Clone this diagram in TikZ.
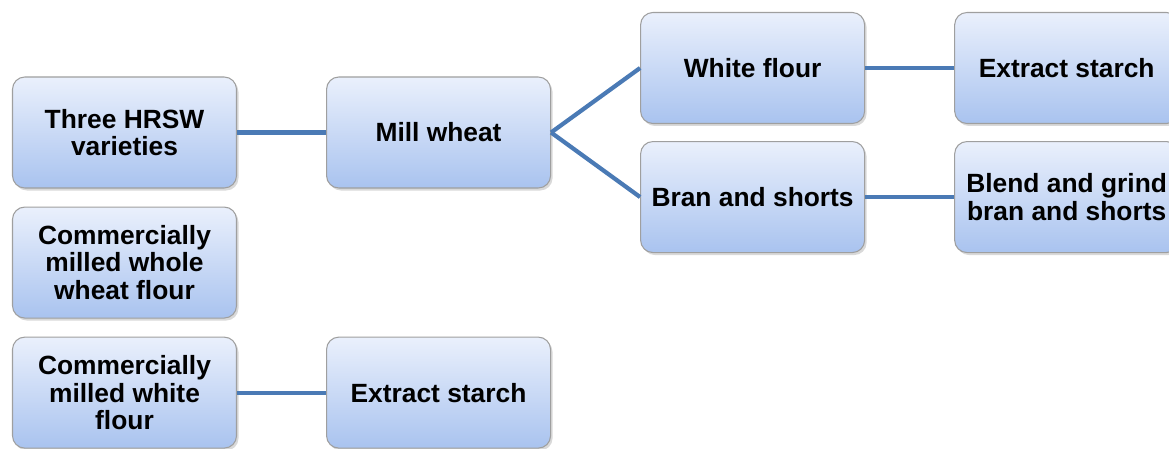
\documentclass[tikz,border=0pt]{standalone}
\usepackage{fontspec}
\setmainfont{Liberation Sans}
\usepackage{xcolor}
\usetikzlibrary{positioning, shadows}
\definecolor{boxtop}{HTML}{EAF0FC}
\definecolor{boxbottom}{HTML}{A9C3EF}
\definecolor{linkblue}{HTML}{4A7AB5}

\begin{document}
\begin{tikzpicture}[
    node distance=1.78cm,
    box/.style={draw=gray!75, line width=0.6pt, rounded corners=7pt, align=center,
        top color=boxtop, bottom color=boxbottom,
        drop shadow={opacity=0.3, shadow xshift=0.04cm, shadow yshift=-0.05cm},
        minimum width=4.48cm, minimum height=2.22cm, inner sep=2pt,
        font=\bfseries\fontsize{15}{15.6}\selectfont},
    link/.style={draw=linkblue, line width=2.4pt}
]
    \clip (0,0) rectangle (23.38,-8.98);

    % Left column
    \node[box] (hrsw) at (2.49,-2.65) {Three HRSW\\varieties};
    \node[box, below=0.36cm of hrsw] (wholeflour) {Commercially\\milled whole\\wheat flour};
    \node[box, below=0.36cm of wholeflour] (whiteflourC) {Commercially\\milled white\\flour};

    % Milling
    \node[box, right=of hrsw] (mill) {Mill wheat};
    \node[box, right=of whiteflourC] (starchC) {Extract starch};

    % Mill fractions
    \node[box, right=of mill, yshift=1.29cm] (whiteflour) {White flour};
    \node[box, below=0.34cm of whiteflour] (bran) {Bran and shorts};

    % Right column
    \node[box, right=of whiteflour] (starch) {Extract starch};
    \node[box, right=of bran] (blend) {Blend and grind\\bran and shorts};

    % Connectors
    \draw[link] (hrsw) -- (mill);
    \draw[link] (mill.east) -- (whiteflour.west);
    \draw[link] (mill.east) -- (bran.west);
    \draw[link] (whiteflour) -- (starch);
    \draw[link] (bran) -- (blend);
    \draw[link] (whiteflourC) -- (starchC);

\end{tikzpicture}
\end{document}
